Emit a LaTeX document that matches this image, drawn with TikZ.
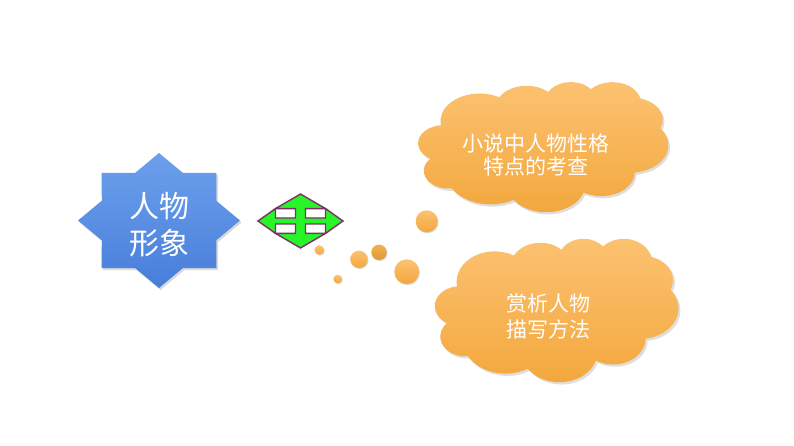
\documentclass[tikz,border=0pt]{standalone}
\usepackage{fontspec}
\newfontfamily\cjk{Noto Sans CJK SC}
\usetikzlibrary{shadows}
\definecolor{orTop}{RGB}{252,194,114}
\definecolor{orBot}{RGB}{243,167,60}
\definecolor{orDkTop}{RGB}{240,178,82}
\definecolor{orDkBot}{RGB}{224,154,48}
\definecolor{blTop}{RGB}{108,160,236}
\definecolor{blBot}{RGB}{72,126,218}
\definecolor{arGreen}{RGB}{40,245,40}
\definecolor{arLine}{RGB}{125,48,105}
% one arc of the PowerPoint cloud outline (wR, hR, start angle, sweep; angles as in DrawingML)
\newcommand\carc[4]{arc[x radius=#1pt, y radius=#2pt, start angle={-pa(#1,#2,#3)}, delta angle={-mod(pa(#1,#2,#3+#4)-pa(#1,#2,#3)+720,360)}]}
\newcommand\cloudpath{(3.9,14.37)
 \carc{6.753}{9.190}{-190.48748}{123.78053}
 \carc{5.333}{7.267}{-144.10238}{89.94523}
 \carc{4.365}{5.945}{-145.80792}{99.72302}
 \carc{4.857}{6.595}{-130.98607}{117.24173}
 \carc{5.333}{7.273}{-78.70888}{109.02692}
 \carc{6.775}{9.220}{-46.26725}{130.26900}
 \carc{5.785}{7.867}{0.62502}{114.03333}
 \carc{6.752}{9.215}{22.45160}{115.17255}
 \carc{7.720}{10.543}{66.24263}{75.71102}
 \carc{4.360}{5.918}{-274.94208}{146.73557}
 \carc{4.345}{5.945}{-246.82850}{152.51885} -- cycle}
\newcommand\pptcloud[5]{%
  \pgfmathsetmacro\cxs{#3/43.2}\pgfmathsetmacro\cys{#4/43.2}%
  \begin{scope}[shift={(#1,#2)}, xscale=\cxs, yscale=\cys]
    \path[#5] \cloudpath;
  \end{scope}}
\begin{document}
\begin{tikzpicture}[x=1pt, y=-1pt,
  declare function={pa(\w,\h,\a)=atan2(\w*sin(\a),\h*cos(\a));},
  txt/.style={text=white, align=center, inner sep=0pt},
  cloudfill/.style={top color=orTop, bottom color=orBot},
  cloudshadow/.style={fill=black, opacity=0.13},
  bubble/.style={circle, inner sep=0pt, minimum size=#1, top color=orTop, bottom color=orBot,
    drop shadow={shadow xshift=0.8pt, shadow yshift=-1pt, opacity=0.3}},
  darkbubble/.style={bubble=#1, top color=orDkTop, bottom color=orDkBot},
  starfill/.style={top color=blTop, bottom color=blBot},
  arrowshape/.style={fill=arGreen, draw=arLine, line width=1.4pt, line join=miter}]
\useasboundingbox (0,0) rectangle (794,446);
\fill[white] (0,0) rectangle (794,446);

% 8-point star
\fill[black, opacity=0.15] (159+81+1.5,222.5)
  \foreach \k in {1,...,15}{ -- ({160.5+81*(1-0.235*mod(\k,2))*cos(22.5*\k)},{222.5+67.5*(1-0.235*mod(\k,2))*sin(22.5*\k)}) } -- cycle;
\path[starfill] (159+81,220.5)
  \foreach \k in {1,...,15}{ -- ({159+81*(1-0.235*mod(\k,2))*cos(22.5*\k)},{220.5+67.5*(1-0.235*mod(\k,2))*sin(22.5*\k)}) } -- cycle;
\node[txt, font=\cjk\fontsize{30}{37}\selectfont] (star) at (159,224.8) {人物\\形象};

% four-way arrow
\begin{scope}[shift={(300.5,221)}]
\path[arrowshape] (-42.5,0) -- (-25,-12.4) -- (-25,-3) -- (-5,-3) -- (-5,-12.4) -- (-25,-12.4)
  -- (0,-27) -- (25,-12.4) -- (5,-12.4) -- (5,-3) -- (25,-3) -- (25,-12.4)
  -- (42.5,0) -- (25,12.4) -- (25,3) -- (5,3) -- (5,12.4) -- (25,12.4)
  -- (0,27) -- (-25,12.4) -- (-5,12.4) -- (-5,3) -- (-25,3) -- (-25,12.4) -- cycle;
\end{scope}

% thought bubbles
\node[bubble=9.4pt] (b1) at (319.3,250) {};
\node[bubble=8.6pt] (b2) at (337.7,279) {};
\node[bubble=17.4pt] (b3) at (359,259.3) {};
\node[darkbubble=15.4pt] (b4) at (379,252.3) {};
\node[bubble=24.8pt] (b5) at (406.7,271.7) {};
\node[bubble=22pt] (b6) at (426.7,221.3) {};

% clouds
\pptcloud{420}{84}{250}{130}{cloudshadow}
\pptcloud{418.3}{81.7}{250}{130}{cloudfill}
\node[txt, font=\cjk\fontsize{21}{23.4}\selectfont] (c1) at (535.8,155) {小说中人物性格\\特点的考查};

\pptcloud{437}{240.6}{243.3}{143.4}{cloudshadow}
\pptcloud{435}{238.3}{243.3}{143.4}{cloudfill}
\node[txt, font=\cjk\fontsize{21}{25.8}\selectfont] (c2) at (548.3,316.2) {赏析人物\\描写方法};
\end{tikzpicture}
\end{document}
